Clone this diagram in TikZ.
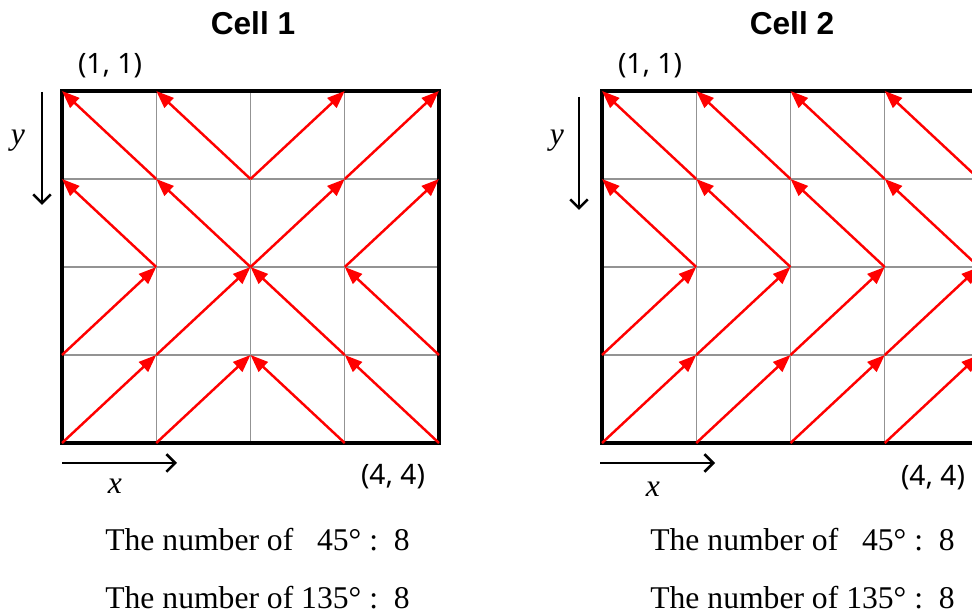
\documentclass[tikz,border=0pt]{standalone}
\usepackage{fontspec}
\setmainfont{Liberation Serif}
\setsansfont{Noto Sans}
\newfontfamily\titlefont{Liberation Sans}
\usepackage{tikz}
\usetikzlibrary{arrows.meta}

\begin{document}
\begin{tikzpicture}[x=0.2mm, y=-0.2mm,
  grid/.style={draw=gray!85, line width=0.7pt},
  frame/.style={draw=black, line width=1.8pt},
  arr/.style={-{Triangle[length=10pt,width=7.5pt]}, draw=red, fill=red, line width=1.4pt},
  axis/.style={-{Straight Barb[length=5pt,width=10pt]}, line width=1.5pt},
  title/.style={font=\titlefont\bfseries\fontsize{18}{20}\selectfont},
  corner/.style={font=\sffamily\fontsize{16}{18}\selectfont},
  lbl/.style={font=\itshape\fontsize{18}{20}\selectfont},
  count/.style={anchor=west, inner sep=0pt, font=\fontsize{18}{20}\selectfont}]
\useasboundingbox (0,0) rectangle (972,616);
% grid points, a = cell 1, b = cell 2
\foreach \c/\x in {a/62, b/602}
  \foreach \i in {0,...,4}
    \foreach \j in {0,...,4}
      \coordinate (\c\i\j) at ({\x+94.25*\i},{91+88*\j});
\foreach \c in {a,b} {
  \foreach \k in {1,2,3} {
    \draw[grid] (\c\k0) -- (\c\k4);
    \draw[grid] (\c0\k) -- (\c4\k);
  }
  \draw[frame] (\c00) rectangle (\c44);
}
% cell 1
\foreach \s/\e in {11/00, 21/10, 21/30, 31/40, 12/01, 22/11, 22/31, 32/41,
                   03/12, 13/22, 33/22, 43/32, 04/13, 14/23, 34/23, 44/33}
  \draw[arr] (a\s) -- (a\e);
% cell 2
\foreach \s/\e in {11/00, 21/10, 31/20, 41/30, 12/01, 22/11, 32/21, 42/31,
                   03/12, 13/22, 23/32, 33/42, 04/13, 14/23, 24/33, 34/43}
  \draw[arr] (b\s) -- (b\e);

\node[title] (ta) at (253,23) {Cell 1};
\node[corner] (tla) at (110,66) {(1, 1)};
\node[corner] (bra) at (393,477) {(4, 4)};
\coordinate (ysa) at (42,92);
\coordinate (yea) at (42,205);
\draw[axis] (ysa) -- (yea);
\node[lbl] (ya) at (18,141) {y};
\coordinate (xsa) at (62,463);
\coordinate (xea) at (177,463);
\draw[axis] (xsa) -- (xea);
\node[lbl] (xa) at (115,486) {x};
\node[count] (n45a) at (105,540) {The number of \phantom{1}45°\ :\ \ 8};
\node[count] (n135a) at (105,598) {The number of 135°\ :\ \ 8};

\node[title] (tb) at (792,23) {Cell 2};
\node[corner] (tlb) at (650,66) {(1, 1)};
\node[corner] (brb) at (933,478) {(4, 4)};
\coordinate (ysb) at (579,97);
\coordinate (yeb) at (579,210);
\draw[axis] (ysb) -- (yeb);
\node[lbl] (yb) at (557,141) {y};
\coordinate (xsb) at (600,463);
\coordinate (xeb) at (715,463);
\draw[axis] (xsb) -- (xeb);
\node[lbl] (xb) at (653,489) {x};
\node[count] (n45b) at (650,540) {The number of \phantom{1}45°\ :\ \ 8};
\node[count] (n135b) at (650,598) {The number of 135°\ :\ \ 8};
\end{tikzpicture}
\end{document}
